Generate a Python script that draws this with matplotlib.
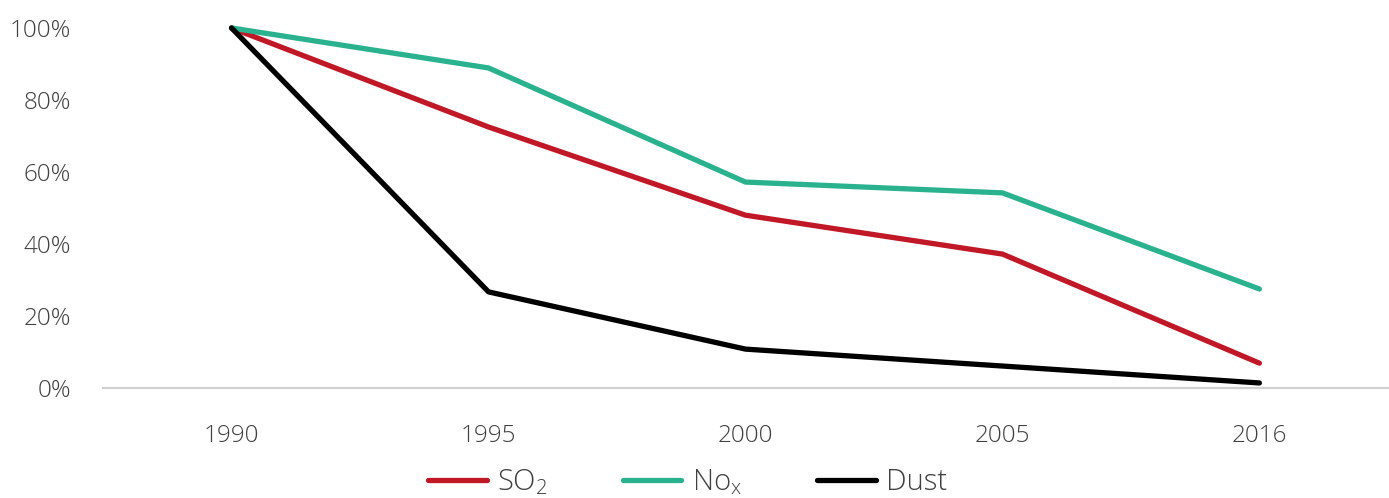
import matplotlib.pyplot as plt
from matplotlib.ticker import PercentFormatter

years = ["1990", "1995", "2000", "2005", "2016"]
so2 = [100, 72.5, 48, 37.2, 6.9]
nox = [100, 88.9, 57.2, 54.2, 27.5]
dust = [100, 26.7, 10.8, 6.1, 1.4]

plt.rcParams['font.family'] = ['Open Sans', 'DejaVu Sans']
plt.rcParams['mathtext.default'] = 'regular'

fig = plt.figure(figsize=(13.89, 4.98), dpi=100)
ax = fig.add_axes([0.0742, 0.2209, 0.9250, 0.7229])

x = range(len(years))
lw = 3.8
ax.plot(x, so2, color='#c01826', lw=lw, solid_capstyle='round', solid_joinstyle='round', clip_on=False, label='SO$_2$')
ax.plot(x, nox, color='#2ab28f', lw=lw, solid_capstyle='round', solid_joinstyle='round', clip_on=False, label='No$_x$')
ax.plot(x, dust, color='#000000', lw=lw, solid_capstyle='round', solid_joinstyle='round', clip_on=False, label='Dust')

ax.set_xlim(-0.5, len(years) - 0.5)
ax.set_ylim(0, 100)
ax.set_xticks(list(x))
ax.set_xticklabels(years)
ax.set_yticks([0, 20, 40, 60, 80, 100])
ax.yaxis.set_major_formatter(PercentFormatter(decimals=0))

for s in ['top', 'right', 'left']:
    ax.spines[s].set_visible(False)
ax.spines['bottom'].set_color('#d0d0d0')
ax.spines['bottom'].set_linewidth(1.6)
ax.spines['bottom'].set_zorder(0)

ax.tick_params(axis='both', length=0, labelsize=17.5, labelcolor='#404040')
ax.tick_params(axis='x', pad=26)
ax.tick_params(axis='y', pad=23)
for lab in ax.get_xticklabels() + ax.get_yticklabels():
    lab.set_fontweight('light')

leg = ax.legend(loc='center', bbox_to_anchor=(0.455, -0.262),
                ncol=3, frameon=False, fontsize=21, handlelength=2.0,
                handletextpad=0.35, columnspacing=2.6)
for t in leg.get_texts():
    t.set_color('#404040')
    t.set_fontweight('light')

fig.savefig('out.png', dpi=100)
